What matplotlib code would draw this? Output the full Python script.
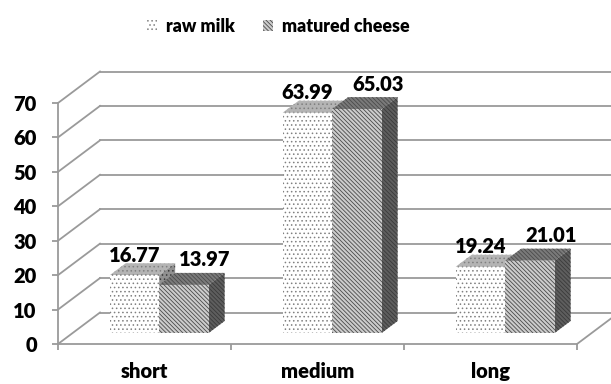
import matplotlib
matplotlib.use("Agg")
import matplotlib.pyplot as plt
from matplotlib.patches import Polygon, Patch

plt.rcParams['font.family'] = ['Lato', 'DejaVu Sans']
plt.rcParams['font.weight'] = 'heavy'
plt.rcParams['hatch.linewidth'] = 0.6

categories = ["short", "medium", "long"]
series_names = ["raw milk", "matured cheese"]
raw_milk = [16.77, 63.99, 19.24]
matured_cheese = [13.97, 65.03, 21.01]
yticks = [0, 10, 20, 30, 40, 50, 60, 70]

FW = 'heavy'
FS = 14.5
FS_LEG = 12.8

W, H = 611, 384
fig = plt.figure(figsize=(W / 100, H / 100), dpi=100)
L, R, B, T = 58, 577, 344, 103
ax = fig.add_axes([L / W, (H - B) / H, (R - L) / W, (B - T) / H])
ax.set_xlim(0, 3)
ax.set_ylim(0, 70)
ax.patch.set_alpha(0)

pxx = (R - L) / 3.0
pxy = (B - T) / 70.0
back_dx, back_dy = 42 / pxx, 31.5 / pxy
gcol = '#9a9a9a'
glw = 1.3

for v in yticks:
    ax.plot([back_dx, 3 + back_dx + 0.5], [v + back_dy, v + back_dy], color=gcol, lw=glw,
            clip_on=False, zorder=1)
    ax.plot([0, back_dx], [v, v + back_dy], color=gcol, lw=glw, clip_on=False, zorder=1)
ax.plot([3, 3 + back_dx], [0, back_dy], color=gcol, lw=glw, clip_on=False, zorder=1)

f0 = 0.35
b_dx, b_dy = f0 * back_dx, f0 * back_dy
d_dx, d_dy = 0.38 * back_dx, 0.38 * back_dy
bw = 0.286

dense = '\\' * 8
styles = [
    dict(front='white', top='#b4b4b4', side='#909090', hatch='....', hc='#808080'),
    dict(front='#cccccc', top='#7a7a7a', side='#5e5e5e', hatch=dense, hc='#4a4a4a'),
]

for i in range(3):
    for s, vals in enumerate([raw_milk, matured_cheese]):
        st = styles[s]
        v = vals[i]
        x0 = i + 0.5 - bw + s * bw + b_dx
        x1 = x0 + bw
        y0 = b_dy
        y1 = b_dy + v
        top = Polygon([(x0, y1), (x1, y1), (x1 + d_dx, y1 + d_dy), (x0 + d_dx, y1 + d_dy)],
                      closed=True, facecolor=st['top'], edgecolor=st['hc'], lw=0,
                      hatch=st['hatch'], zorder=3 + s * 3, clip_on=False)
        side = Polygon([(x1, y0), (x1, y1), (x1 + d_dx, y1 + d_dy), (x1 + d_dx, y0 + d_dy)],
                       closed=True, facecolor=st['side'], edgecolor='#3a3a3a', lw=0,
                       hatch=st['hatch'], zorder=3 + s * 3, clip_on=False)
        ax.add_patch(top)
        ax.add_patch(side)
        ax.bar(x0, v, width=bw, bottom=y0, align='edge', facecolor=st['front'],
               edgecolor=st['hc'], lw=0, hatch=st['hatch'], zorder=4 + s * 3, clip_on=False)
        off = (0, 20) if s == 0 else (21, 25)
        ax.annotate(f"{v:.2f}", xy=(x0 + bw / 2, y1), xytext=off, textcoords='offset pixels',
                    ha='center', va='center', fontsize=FS, fontweight=FW, color='black',
                    zorder=10, annotation_clip=False)

for sp in ['top', 'right']:
    ax.spines[sp].set_visible(False)
for sp in ['left', 'bottom']:
    ax.spines[sp].set_color(gcol)
    ax.spines[sp].set_linewidth(glw)
ax.set_yticks(yticks)
ax.set_yticklabels([str(v) for v in yticks])
ax.tick_params(axis='y', length=4.3, width=glw, color=gcol, pad=11, labelsize=FS)
ax.set_xticks([0.5, 1.5, 2.5])
ax.set_xticklabels(categories)
ax.set_xticks([0, 1, 2, 3], minor=True)
ax.tick_params(axis='x', which='major', length=0, pad=13, labelsize=FS)
ax.tick_params(axis='x', which='minor', length=4.3, width=glw, color=gcol)
for lab in ax.get_xticklabels() + ax.get_yticklabels():
    lab.set_fontweight(FW)

handles = [Patch(facecolor='white', edgecolor='#808080', lw=0, hatch='....'),
           Patch(facecolor='#cccccc', edgecolor='#4a4a4a', lw=0, hatch=dense)]
fig.legend(handles, series_names, loc='center', bbox_to_anchor=(278.5 / W, 1 - 26 / H),
           ncol=2, frameon=False, handlelength=0.55, handleheight=0.55, handletextpad=0.5,
           columnspacing=1.6, prop=dict(weight=FW, size=FS_LEG))

fig.savefig('out.png', dpi=100)
